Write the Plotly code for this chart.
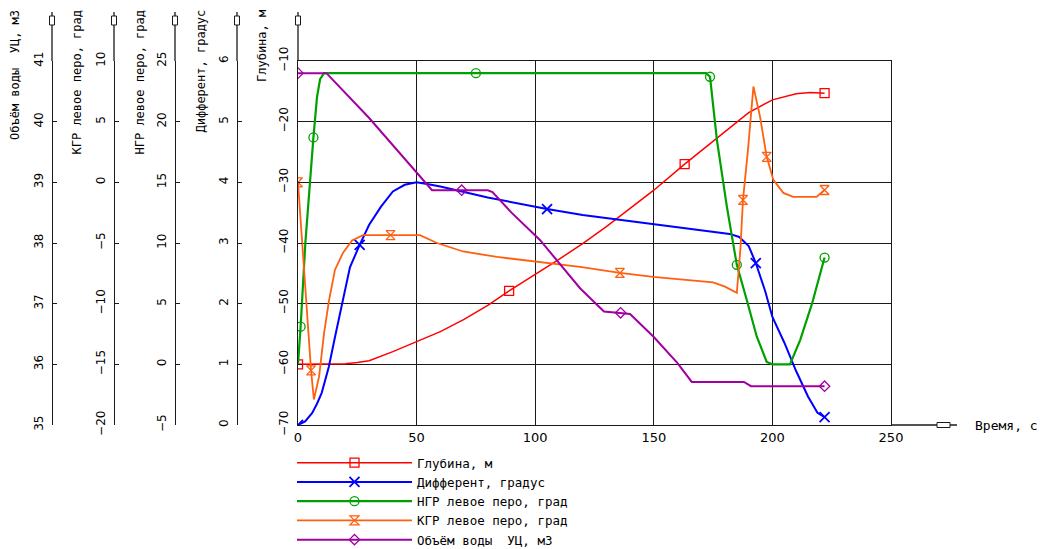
import plotly.graph_objects as go

W, H = 1045, 549
PAGE_OFFSET = 8          # default body margin of the written html page
FONT = "DejaVu Sans, sans-serif"
MONO = "DejaVu Sans Mono, monospace"

# ---------------- data ----------------
X_TICKS = [0, 50, 100, 150, 200, 250]

# Глубина, м
T_DEPTH = [0, 10, 20, 25, 30, 40, 50, 60, 70, 80, 89, 100, 110, 120, 130, 140,
           150, 163, 170, 180, 190, 200, 210, 216, 222]
DEPTH = [-60, -60, -59.9, -59.7, -59.4, -57.9, -56.2, -54.6, -52.6, -50.3, -47.9,
         -45.2, -42.7, -40.1, -37.3, -34.3, -31.3, -27.0, -24.8, -21.6, -18.5,
         -16.4, -15.4, -15.2, -15.3]
DEPTH_MARKS = [0, 10, 17, 24]

# Дифферент, градус
T_TRIM = [0, 3, 6, 8, 10, 13, 15.6, 18.5, 21.9, 26, 30, 35, 40, 45, 50, 55, 60,
          80, 105, 120, 140, 160, 175, 182, 186, 190, 193, 197, 200, 205, 210,
          215, 219, 222]
TRIM = [0, 0.06, 0.2, 0.35, 0.53, 0.96, 1.45, 2.0, 2.6, 2.97, 3.3, 3.6, 3.85,
        3.96, 4.0, 3.97, 3.93, 3.75, 3.56, 3.46, 3.36, 3.26, 3.18, 3.15, 3.10,
        2.95, 2.67, 2.2, 1.78, 1.36, 0.89, 0.47, 0.2, 0.13]
TRIM_MARKS = [0, 9, 18, 26, 33]

# НГР левое перо, град
T_BOW = [0, 1.1, 3.1, 5, 6.5, 8, 9.3, 11, 13, 75, 172, 173.7, 176.6, 180.8, 185,
         189.2, 193.4, 197.6, 200, 207.4, 211.7, 216.7, 220, 222]
BOW = [0, 3.1, 10, 15.2, 18.7, 22, 23.5, 24, 24, 24, 24, 23.7, 18.5, 13.0, 8.2,
       5.3, 2.3, 0.2, 0, 0, 2.0, 5.0, 7.5, 8.8]
BOW_MARKS = [1, 4, 9, 11, 14, 23]

# КГР левое перо, град
T_STERN = [0, 1.7, 3.8, 5.5, 6.7, 8.9, 11, 13.1, 15.6, 19, 22.8, 27.4, 39, 51.4,
           58.6, 69.6, 83.9, 100, 118.9, 135.7, 149.7, 175, 180, 185, 186.5,
           187.6, 189.7, 192, 194.8, 197.6, 200.4, 204.6, 208.8, 218.6, 222]
STERN = [0, -5, -11.3, -15.5, -17.9, -16.0, -12.4, -9.7, -7.2, -5.8, -4.8, -4.35,
         -4.35, -4.35, -5.0, -5.7, -6.15, -6.55, -6.97, -7.47, -7.8, -8.25, -8.6,
         -9.1, -5.5, -1.45, 2.67, 7.9, 5.4, 2.1, 0.2, -0.87, -1.2, -1.2, -0.63]
STERN_MARKS = [0, 3, 12, 19, 25, 29, 34]

# Объём воды УЦ, м3
T_VOL = [0, 12, 30, 50, 56.5, 69, 80, 82, 90, 102, 119, 129, 136, 140, 150, 160,
         166, 188, 191, 222]
VOL = [40.8, 40.8, 40.06, 39.15, 38.87, 38.87, 38.87, 38.84, 38.5, 38.05, 37.25,
       36.87, 36.85, 36.83, 36.45, 36.02, 35.71, 35.71, 35.64, 35.64]
VOL_MARKS = [0, 5, 12, 19]

# ---------------- layout helpers (screen pixels -> paper fractions) ----------------
def px(x):
    return (x - PAGE_OFFSET) / W


def py(y):
    return 1 - (y - PAGE_OFFSET) / H


X0, X1 = 298, 891
Y_TOP, Y_BOT = 61, 425
AXIS_X = [298, 237, 175, 114, 52]          # Глубина, Дифферент, НГР, КГР, Объём
TITLE_X = [262, 200, 139, 76, 15]
INK = "#1a1a1a"

series = [
    dict(name="Глубина, м", t=T_DEPTH, v=DEPTH, marks=DEPTH_MARKS, yaxis="y",
         color="#ff0000", width=1.5, symbol="square-open", msize=9, mlw=1.3),
    dict(name="Дифферент, градус", t=T_TRIM, v=TRIM, marks=TRIM_MARKS, yaxis="y2",
         color="#0000ff", width=2, symbol="x-thin-open", msize=10, mlw=1.8),
    dict(name="НГР левое перо, град", t=T_BOW, v=BOW, marks=BOW_MARKS, yaxis="y3",
         color="#00a000", width=2.2, symbol="circle-open", msize=9, mlw=1.3),
    dict(name="КГР левое перо, град", t=T_STERN, v=STERN, marks=STERN_MARKS, yaxis="y4",
         color="#ff6010", width=1.8, symbol="hourglass-open", msize=9, mlw=1.3),
    dict(name="Объём воды  УЦ, м3", t=T_VOL, v=VOL, marks=VOL_MARKS, yaxis="y5",
         color="#a000a0", width=2, symbol="diamond-open", msize=8, mlw=1.3),
]

fig = go.Figure()
for s in series:
    fig.add_trace(go.Scatter(x=s["t"], y=s["v"], yaxis=s["yaxis"], mode="lines",
                             line=dict(color=s["color"], width=s["width"]),
                             showlegend=False, hoverinfo="skip"))
    fig.add_trace(go.Scatter(x=[s["t"][i] for i in s["marks"]],
                             y=[s["v"][i] for i in s["marks"]],
                             yaxis=s["yaxis"], mode="markers",
                             marker=dict(symbol=s["symbol"], size=s["msize"],
                                         color=s["color"],
                                         line=dict(color=s["color"], width=s["mlw"])),
                             showlegend=False, hoverinfo="skip"))
for s in series:
    fig.add_trace(go.Scatter(x=[None], y=[None], yaxis=s["yaxis"], name=s["name"],
                             mode="lines+markers",
                             line=dict(color=s["color"], width=s["width"]),
                             marker=dict(symbol=s["symbol"], size=s["msize"],
                                         color=s["color"],
                                         line=dict(color=s["color"], width=s["mlw"]))))

dom_y = [py(Y_BOT), py(Y_TOP)]
tickfont = dict(family=FONT, size=12, color="black")
yax_common = dict(showline=True, linecolor=INK, linewidth=1.3, ticks="inside",
                  ticklen=4, tickcolor=INK, tickangle=-90, tickfont=tickfont,
                  zeroline=False, showgrid=False, ticklabelstandoff=4,
                  automargin=False)

fig.update_layout(
    width=W, height=H,
    margin=dict(l=0, r=0, t=0, b=0, autoexpand=False),
    paper_bgcolor="white", plot_bgcolor="white",
    font=dict(family=FONT, size=12, color="black"),
    xaxis=dict(domain=[px(X0), px(X1)], range=[0, 250], tickvals=X_TICKS,
               showgrid=True, gridcolor=INK, gridwidth=1.2, showline=True,
               linecolor=INK, linewidth=1.3, mirror=True, ticks="", zeroline=False,
               tickfont=dict(family=FONT, size=13, color="black"), anchor="y",
               automargin=False),
    yaxis=dict(domain=dom_y, range=[-70, -10], dtick=10, anchor="x",
               **{**yax_common, "showgrid": True, "gridcolor": INK, "gridwidth": 1.2,
                  "mirror": True}),
    yaxis2=dict(overlaying="y", anchor="free", position=px(AXIS_X[1]),
                range=[0, 6], dtick=1, **yax_common),
    yaxis3=dict(overlaying="y", anchor="free", position=px(AXIS_X[2]),
                range=[-5, 25], dtick=5, **yax_common),
    yaxis4=dict(overlaying="y", anchor="free", position=px(AXIS_X[3]),
                range=[-20, 10], dtick=5, **yax_common),
    yaxis5=dict(overlaying="y", anchor="free", position=px(AXIS_X[4]),
                range=[35, 41], dtick=1, **yax_common),
    showlegend=True,
    legend=dict(x=px(292), y=py(448), xanchor="left", yanchor="top",
                font=dict(family=MONO, size=12.5, color="black"),
                bgcolor="rgba(0,0,0,0)", itemwidth=115, tracegroupgap=0,
                traceorder="normal"),
)

# decorations: axis extensions with end markers, axis titles
shapes = []
for ax in AXIS_X:
    shapes.append(dict(type="line", xref="paper", yref="paper",
                       x0=px(ax), x1=px(ax), y0=py(Y_TOP), y1=py(12),
                       line=dict(color=INK, width=1.3)))
    shapes.append(dict(type="rect", xref="paper", yref="paper",
                       x0=px(ax - 2.5), x1=px(ax + 2.5), y0=py(25), y1=py(16),
                       line=dict(color=INK, width=1), fillcolor="white"))
shapes.append(dict(type="line", xref="paper", yref="paper",
                   x0=px(X1), x1=px(957), y0=py(Y_BOT), y1=py(Y_BOT),
                   line=dict(color=INK, width=1.3)))
shapes.append(dict(type="rect", xref="paper", yref="paper",
                   x0=px(937), x1=px(950), y0=py(427.5), y1=py(422.5),
                   line=dict(color=INK, width=1), fillcolor="white"))
fig.update_layout(shapes=shapes)

for s, tx in zip(series, TITLE_X):
    fig.add_annotation(text=s["name"], xref="paper", yref="paper", x=px(tx),
                       y=py(PAGE_OFFSET), xanchor="center", yanchor="top", textangle=-90,
                       showarrow=False, font=dict(family=MONO, size=12, color="black"))
fig.add_annotation(text="Время, с", xref="paper", yref="paper", x=px(973),
                   y=py(Y_BOT), xanchor="left", yanchor="middle", showarrow=False,
                   font=dict(family=MONO, size=13, color="black"))

fig.write_html("out.html")
